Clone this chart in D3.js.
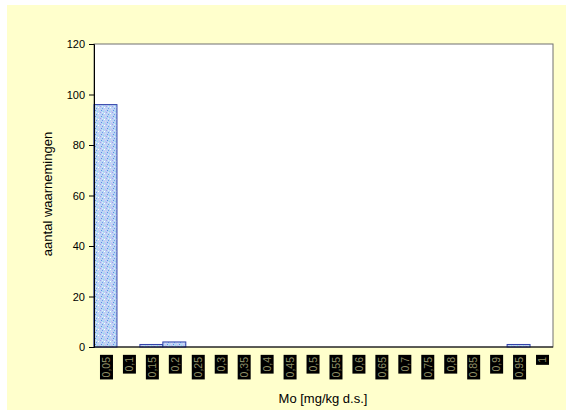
<!DOCTYPE html>
<html>
<head>
<meta charset="utf-8">
<script src="https://cdn.jsdelivr.net/npm/d3@7"></script>
<style>
html,body{margin:0;padding:0;background:#fff;}
svg{display:block;font-family:"Liberation Sans",Arial,sans-serif;}
</style>
</head>
<body>
<svg id="chart" width="573" height="416"></svg>
<script>
const categories = ["0,05","0,1","0,15","0,2","0,25","0,3","0,35","0,4","0,45","0,5","0,55","0,6","0,65","0,7","0,75","0,8","0,85","0,9","0,95","1"];
const counts = [96,0,1,2,0,0,0,0,0,0,0,0,0,0,0,0,0,0,1,0];
const yTicks = [0,20,40,60,80,100,120];
const xTitle = "Mo [mg/kg d.s.]";
const yTitle = "aantal waarnemingen";

const svg = d3.select("#chart");
svg.append("rect").attr("x",7).attr("y",5).attr("width",559).attr("height",405).attr("fill","#FFFFCC");

const defs = svg.append("defs");
const pat = defs.append("pattern").attr("id","dots").attr("patternUnits","userSpaceOnUse")
  .attr("width",6).attr("height",6);
pat.append("rect").attr("width",6).attr("height",6).attr("fill","#BCD4F4");
[[0,0,"#6F9CEC"],[3,1,"#E0CCF8"],[1,3,"#90DCF0"],[4,4,"#A898EE"],[2,5,"#FFFFFF"],[5,2,"#5C8EE6"],[0,4,"#D8ECFF"],[3,3,"#C8B8F4"]]
  .forEach(([px,py,c])=>pat.append("rect").attr("x",px).attr("y",py).attr("width",1).attr("height",1).attr("fill",c));

const pLeft = 94, pRight = 553, pTop = 44, pBottom = 347;
const x = d3.scaleBand().domain(categories).range([pLeft,pRight]).padding(0);
const y = d3.scaleLinear().domain([0,120]).range([pBottom,pTop]);

svg.append("rect").attr("x",pLeft).attr("y",pTop).attr("width",pRight-pLeft).attr("height",pBottom-pTop)
  .attr("fill","#fff").attr("stroke","#707070").attr("stroke-width",1);

svg.selectAll("rect.bar").data(categories.map((c,i)=>({c,v:counts[i]})).filter(d=>d.v>0))
  .enter().append("rect").attr("class","bar")
  .attr("x",d=>x(d.c)).attr("y",d=>y(d.v))
  .attr("width",x.bandwidth()).attr("height",d=>pBottom-y(d.v))
  .attr("fill","url(#dots)").attr("stroke","#3040A8").attr("stroke-width",1);

const yAxis = svg.append("g").attr("transform",`translate(${pLeft},0)`)
  .call(d3.axisLeft(y).tickValues(yTicks).tickSize(5).tickPadding(4).tickFormat(d3.format("d")));
yAxis.select(".domain").attr("stroke","#000");
yAxis.selectAll("line").attr("stroke","#000");
yAxis.selectAll("text").attr("font-size",11).attr("fill","#000").attr("font-family","Liberation Sans, Arial, sans-serif");

svg.append("line").attr("x1",pLeft).attr("x2",pRight).attr("y1",pBottom).attr("y2",pBottom).attr("stroke","#000");

// x tick labels: rotated text on black boxes
const xl = svg.append("g");
categories.forEach(c=>{
  const cx = x(c)+x.bandwidth()/2 + 1;
  const g = xl.append("g").attr("transform",`translate(${cx},355) rotate(-90)`);
  const t = g.append("text").text(c).attr("x",-2).attr("y",0).attr("text-anchor","end")
    .attr("dy","0.36em").attr("font-size",10.5).attr("fill","#8E8E66");
  const bb = t.node().getBBox();
  g.insert("rect","text").attr("x",bb.x-2).attr("y",-6.5).attr("width",bb.width+4).attr("height",13).attr("fill","#000");
});

svg.append("text").attr("x",323).attr("y",403).attr("text-anchor","middle").attr("font-size",13).attr("fill","#000").text(xTitle);
svg.append("text").attr("transform","translate(52,194) rotate(-90)").attr("text-anchor","middle").attr("font-size",13).attr("fill","#000").text(yTitle);
</script>
</body>
</html>
